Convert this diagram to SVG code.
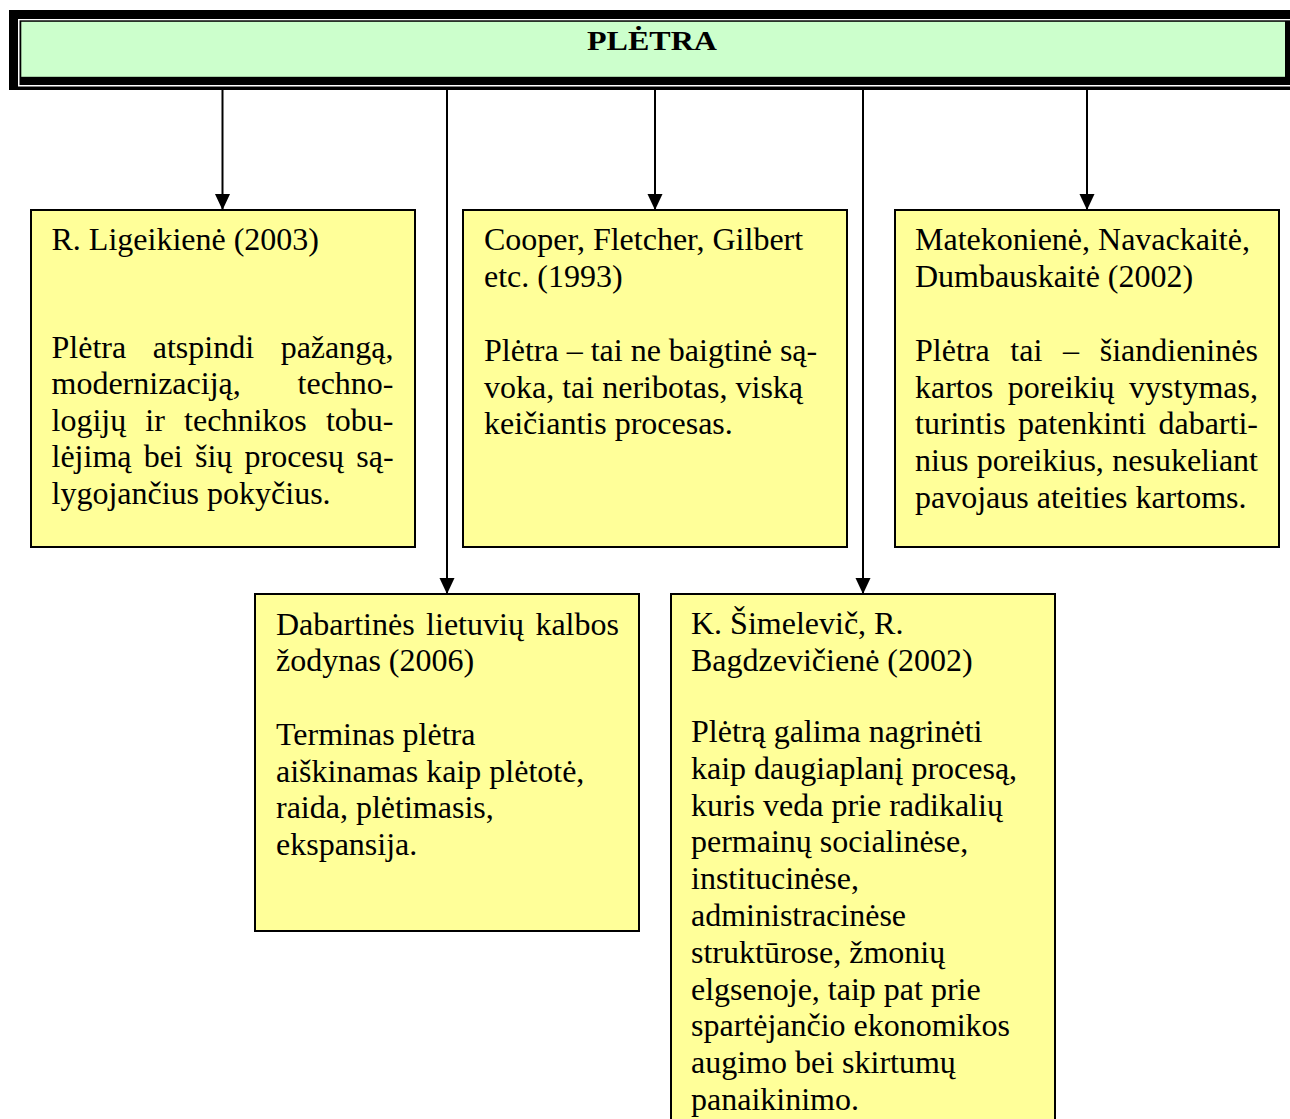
<svg xmlns="http://www.w3.org/2000/svg" width="1290" height="1119" viewBox="0 0 1290 1119">
  <style>
    .box { fill: #FFFF99; stroke: #000; stroke-width: 2; }
    .t { font-family: "Liberation Serif", "Times New Roman", serif; font-size: 32px; fill: #000; }
    .title { font-family: "Liberation Serif", "Times New Roman", serif; font-size: 28px; font-weight: bold; fill: #000; }
    .conn { stroke: #000; stroke-width: 2; fill: none; marker-end: url(#arrow); }
  </style>
  <defs>
    <marker id="arrow" markerUnits="userSpaceOnUse" markerWidth="15" markerHeight="16" refX="16" refY="7.5" orient="auto">
      <path d="M0,0 L16,7.5 L0,15 Z" fill="#000"/>
    </marker>
  </defs>
  <rect width="1290" height="1119" fill="#fff"/>

  <!-- header bar with thick-thin border -->
  <g id="header">
    <rect x="9" y="10" width="1281" height="80" fill="#000"/>
    <rect x="18" y="19" width="1272" height="67.5" fill="#fff"/>
    <rect x="19.5" y="20.3" width="1270.5" height="64.7" fill="#000"/>
    <rect x="21.3" y="21.8" width="1263.7" height="55" fill="#CCFFCC"/>
    <text class="title" x="652" y="50" text-anchor="middle" textLength="130" lengthAdjust="spacingAndGlyphs">PLĖTRA</text>
  </g>

  <!-- connectors -->
  <g id="connectors">
    <line class="conn" x1="222.5" y1="89" x2="222.5" y2="210"/>
    <line class="conn" x1="447" y1="89" x2="447" y2="594"/>
    <line class="conn" x1="655" y1="89" x2="655" y2="210"/>
    <line class="conn" x1="863" y1="89" x2="863" y2="594"/>
    <line class="conn" x1="1087" y1="89" x2="1087" y2="210"/>
  </g>

  <g id="node-ligeikiene">
    <rect class="box" x="31" y="210" width="384" height="337"/>
    <text class="t" x="51.5" y="250">R. Ligeikienė (2003)</text>
    <text class="t" x="51.5" y="357.5" word-spacing="18.6">Plėtra atspindi pažangą,</text>
    <text class="t" x="51.5" y="394" word-spacing="48.8">modernizaciją, techno-</text>
    <text class="t" x="51.5" y="430.5" word-spacing="11.2">logijų ir technikos tobu-</text>
    <text class="t" x="51.5" y="467" word-spacing="4.2">lėjimą bei šių procesų są-</text>
    <text class="t" x="51.5" y="504">lygojančius pokyčius.</text>
  </g>

  <g id="node-cooper">
    <rect class="box" x="463" y="210" width="384" height="337"/>
    <text class="t" x="484" y="250">Cooper, Fletcher, Gilbert</text>
    <text class="t" x="484" y="287">etc. (1993)</text>
    <text class="t" x="484" y="361">Plėtra – tai ne baigtinė są-</text>
    <text class="t" x="484" y="397.5">voka, tai neribotas, viską</text>
    <text class="t" x="484" y="434">keičiantis procesas.</text>
  </g>

  <g id="node-matekoniene">
    <rect class="box" x="895" y="210" width="384" height="337"/>
    <text class="t" x="915" y="250">Matekonienė, Navackaitė,</text>
    <text class="t" x="915" y="287">Dumbauskaitė (2002)</text>
    <text class="t" x="915" y="361" word-spacing="12.7">Plėtra tai – šiandieninės</text>
    <text class="t" x="915" y="397.5" word-spacing="6.6">kartos poreikių vystymas,</text>
    <text class="t" x="915" y="434" word-spacing="4.4">turintis patenkinti dabarti-</text>
    <text class="t" x="915" y="471" word-spacing="0.4">nius poreikius, nesukeliant</text>
    <text class="t" x="915" y="508">pavojaus ateities kartoms.</text>
  </g>

  <g id="node-zodynas">
    <rect class="box" x="255" y="594" width="384" height="337"/>
    <text class="t" x="276" y="635" word-spacing="3.5">Dabartinės lietuvių kalbos</text>
    <text class="t" x="276" y="671">žodynas (2006)</text>
    <text class="t" x="276" y="745">Terminas plėtra</text>
    <text class="t" x="276" y="782">aiškinamas kaip plėtotė,</text>
    <text class="t" x="276" y="818">raida, plėtimasis,</text>
    <text class="t" x="276" y="855">ekspansija.</text>
  </g>

  <g id="node-simelevic">
    <rect class="box" x="671" y="594" width="384" height="600"/>
    <text class="t" x="691" y="634">K. Šimelevič, R.</text>
    <text class="t" x="691" y="671">Bagdzevičienė (2002)</text>
    <text class="t" x="691" y="742">Plėtrą galima nagrinėti</text>
    <text class="t" x="691" y="778.8">kaip daugiaplanį procesą,</text>
    <text class="t" x="691" y="815.6">kuris veda prie radikalių</text>
    <text class="t" x="691" y="852.4">permainų socialinėse,</text>
    <text class="t" x="691" y="889.2">institucinėse,</text>
    <text class="t" x="691" y="926">administracinėse</text>
    <text class="t" x="691" y="962.8">struktūrose, žmonių</text>
    <text class="t" x="691" y="999.6">elgsenoje, taip pat prie</text>
    <text class="t" x="691" y="1036.4">spartėjančio ekonomikos</text>
    <text class="t" x="691" y="1073.2">augimo bei skirtumų</text>
    <text class="t" x="691" y="1110">panaikinimo.</text>
  </g>
</svg>
